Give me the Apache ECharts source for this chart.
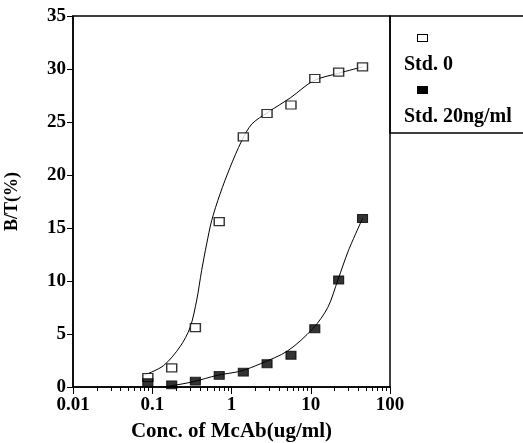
<!DOCTYPE html>
<html>
<head>
<meta charset="utf-8">
<script src="https://cdn.jsdelivr.net/npm/echarts@6/dist/echarts.min.js"></script>
<style>
  html, body { margin: 0; padding: 0; background: #fff; }
  #chart { width: 523px; height: 443px; }
</style>
</head>
<body>
<div id="chart"></div>
<script>
// measured points (conc in ug/ml, B/T in %)
var conc = [0.088, 0.176, 0.35, 0.70, 1.41, 2.81, 5.63, 11.25, 22.5, 45];
var std0 = [0.9, 1.8, 5.6, 15.6, 23.6, 25.8, 26.6, 29.1, 29.7, 30.2];
var std20 = [0.4, 0.2, 0.55, 1.1, 1.4, 2.2, 3.0, 5.5, 10.1, 15.9];

// fitted curves
var fit0X = [0.078, 0.138, 0.224, 0.30, 0.364, 0.42, 0.486, 0.562, 0.716, 0.957, 1.34, 1.80, 2.86, 5.58, 10.9, 22.5, 45];
var fit0Y = [1.1, 2.0, 3.8, 5.6, 8.2, 11.0, 13.5, 15.7, 18.2, 20.7, 23.2, 24.8, 25.9, 27.3, 28.9, 29.6, 30.2];
var fit20X = [0.13, 0.17, 0.33, 0.66, 1.3, 2.33, 5.1, 10.6, 16.4, 22, 30, 45];
var fit20Y = [0, 0.1, 0.5, 1.1, 1.5, 2.2, 3.4, 5.5, 7.5, 10.1, 12.9, 15.9];

// log axis: decades and in-between minor tick multipliers
var decades = [0.01, 0.1, 1, 10];
var minorSteps = [2, 3, 4, 5, 6, 7, 8, 9];

var names = ['Std. 0', 'Std. 20ng/ml'];

function pairs(xs, ys) {
  return xs.map(function (x, i) { return [x, ys[i]]; });
}

var minorTicks = [];
decades.forEach(function (d) {
  minorSteps.forEach(function (k) { minorTicks.push(Math.log10(k * d)); });
});

var font = 'Liberation Serif';

var myChart = echarts.init(document.getElementById('chart'));
myChart.setOption({
  animation: false,
  backgroundColor: '#fff',
  grid: {
    left: 73,
    right: 133,
    top: 16,
    bottom: 56,
    outerBoundsMode: 'none',
    show: true,
    borderColor: '#000',
    borderWidth: 1.5
  },
  xAxis: [{
    type: 'log',
    logBase: 10,
    min: 0.01,
    max: 100,
    position: 'bottom',
    name: 'Conc. of McAb(ug/ml)',
    nameLocation: 'middle',
    nameGap: 34,
    nameTextStyle: { fontFamily: font, fontWeight: 'bold', fontSize: 21, color: '#000' },
    axisLine: { onZero: false, lineStyle: { color: '#000', width: 1.5 } },
    axisTick: { show: true, inside: false, length: 7, lineStyle: { color: '#000', width: 1 } },
    axisLabel: { fontFamily: font, fontWeight: 'bold', fontSize: 19, color: '#000', margin: 9 },
    splitLine: { show: false }
  }, {
    // minor ticks only, laid over the log axis in log10 units
    type: 'value',
    min: -2,
    max: 2,
    position: 'bottom',
    axisLine: { show: true, onZero: false, lineStyle: { color: 'rgba(0,0,0,0)' } },
    axisTick: { show: true, inside: false, length: 4, customValues: minorTicks, lineStyle: { color: '#000', width: 1 } },
    axisLabel: { show: false },
    splitLine: { show: false }
  }],
  yAxis: {
    type: 'value',
    min: 0,
    max: 35,
    interval: 5,
    name: 'B/T(%)',
    nameLocation: 'middle',
    nameGap: 52,
    nameTextStyle: { fontFamily: font, fontWeight: 'bold', fontSize: 18, color: '#000' },
    axisLine: { show: true, onZero: false, lineStyle: { color: '#000', width: 1.5 } },
    axisTick: { show: true, inside: false, length: 6, lineStyle: { color: '#000' } },
    axisLabel: { fontFamily: font, fontWeight: 'bold', fontSize: 19, color: '#000', margin: 7 },
    splitLine: { show: false }
  },
  legend: {
    data: names,
    orient: 'vertical',
    left: 398,
    top: 32,
    padding: 0,
    itemGap: 9,
    itemWidth: 0,
    itemHeight: 0,
    selectedMode: false,
    formatter: function (name) {
      return '{s|}' + (name === names[0] ? '{o|}' : '{f|}') + '\n{t|' + name + '}';
    },
    textStyle: {
      rich: {
        s: { width: 14, height: 6, lineHeight: 30 },
        o: { width: 9, height: 6, lineHeight: 30, backgroundColor: '#fff', borderColor: '#000', borderWidth: 1 },
        f: { width: 9, height: 6, lineHeight: 30, backgroundColor: '#000', borderColor: '#000', borderWidth: 1 },
        t: { fontFamily: font, fontWeight: 'bold', fontSize: 20, color: '#000', lineHeight: 24 }
      }
    }
  },
  graphic: [{
    type: 'rect',
    shape: { x: 390, y: 16, width: 140, height: 117 },
    style: { fill: 'none', stroke: '#000', lineWidth: 1.5 },
    silent: true
  }],
  series: [{
    name: 'fit0',
    type: 'line',
    smooth: 0.3,
    showSymbol: false,
    data: pairs(fit0X, fit0Y),
    lineStyle: { color: '#000', width: 1 },
    z: 2
  }, {
    name: 'fit20',
    type: 'line',
    smooth: 0.3,
    showSymbol: false,
    data: pairs(fit20X, fit20Y),
    lineStyle: { color: '#000', width: 1 },
    z: 2
  }, {
    name: names[0],
    type: 'scatter',
    symbol: 'rect',
    symbolSize: [10, 8],
    data: pairs(conc, std0),
    itemStyle: { color: '#fff', borderColor: '#000', borderWidth: 1.3 },
    z: 3
  }, {
    name: names[1],
    type: 'scatter',
    symbol: 'rect',
    symbolSize: [10, 8],
    data: pairs(conc, std20),
    itemStyle: { color: '#000', borderColor: '#000', borderWidth: 1 },
    z: 3
  }]
});
</script>
</body>
</html>
